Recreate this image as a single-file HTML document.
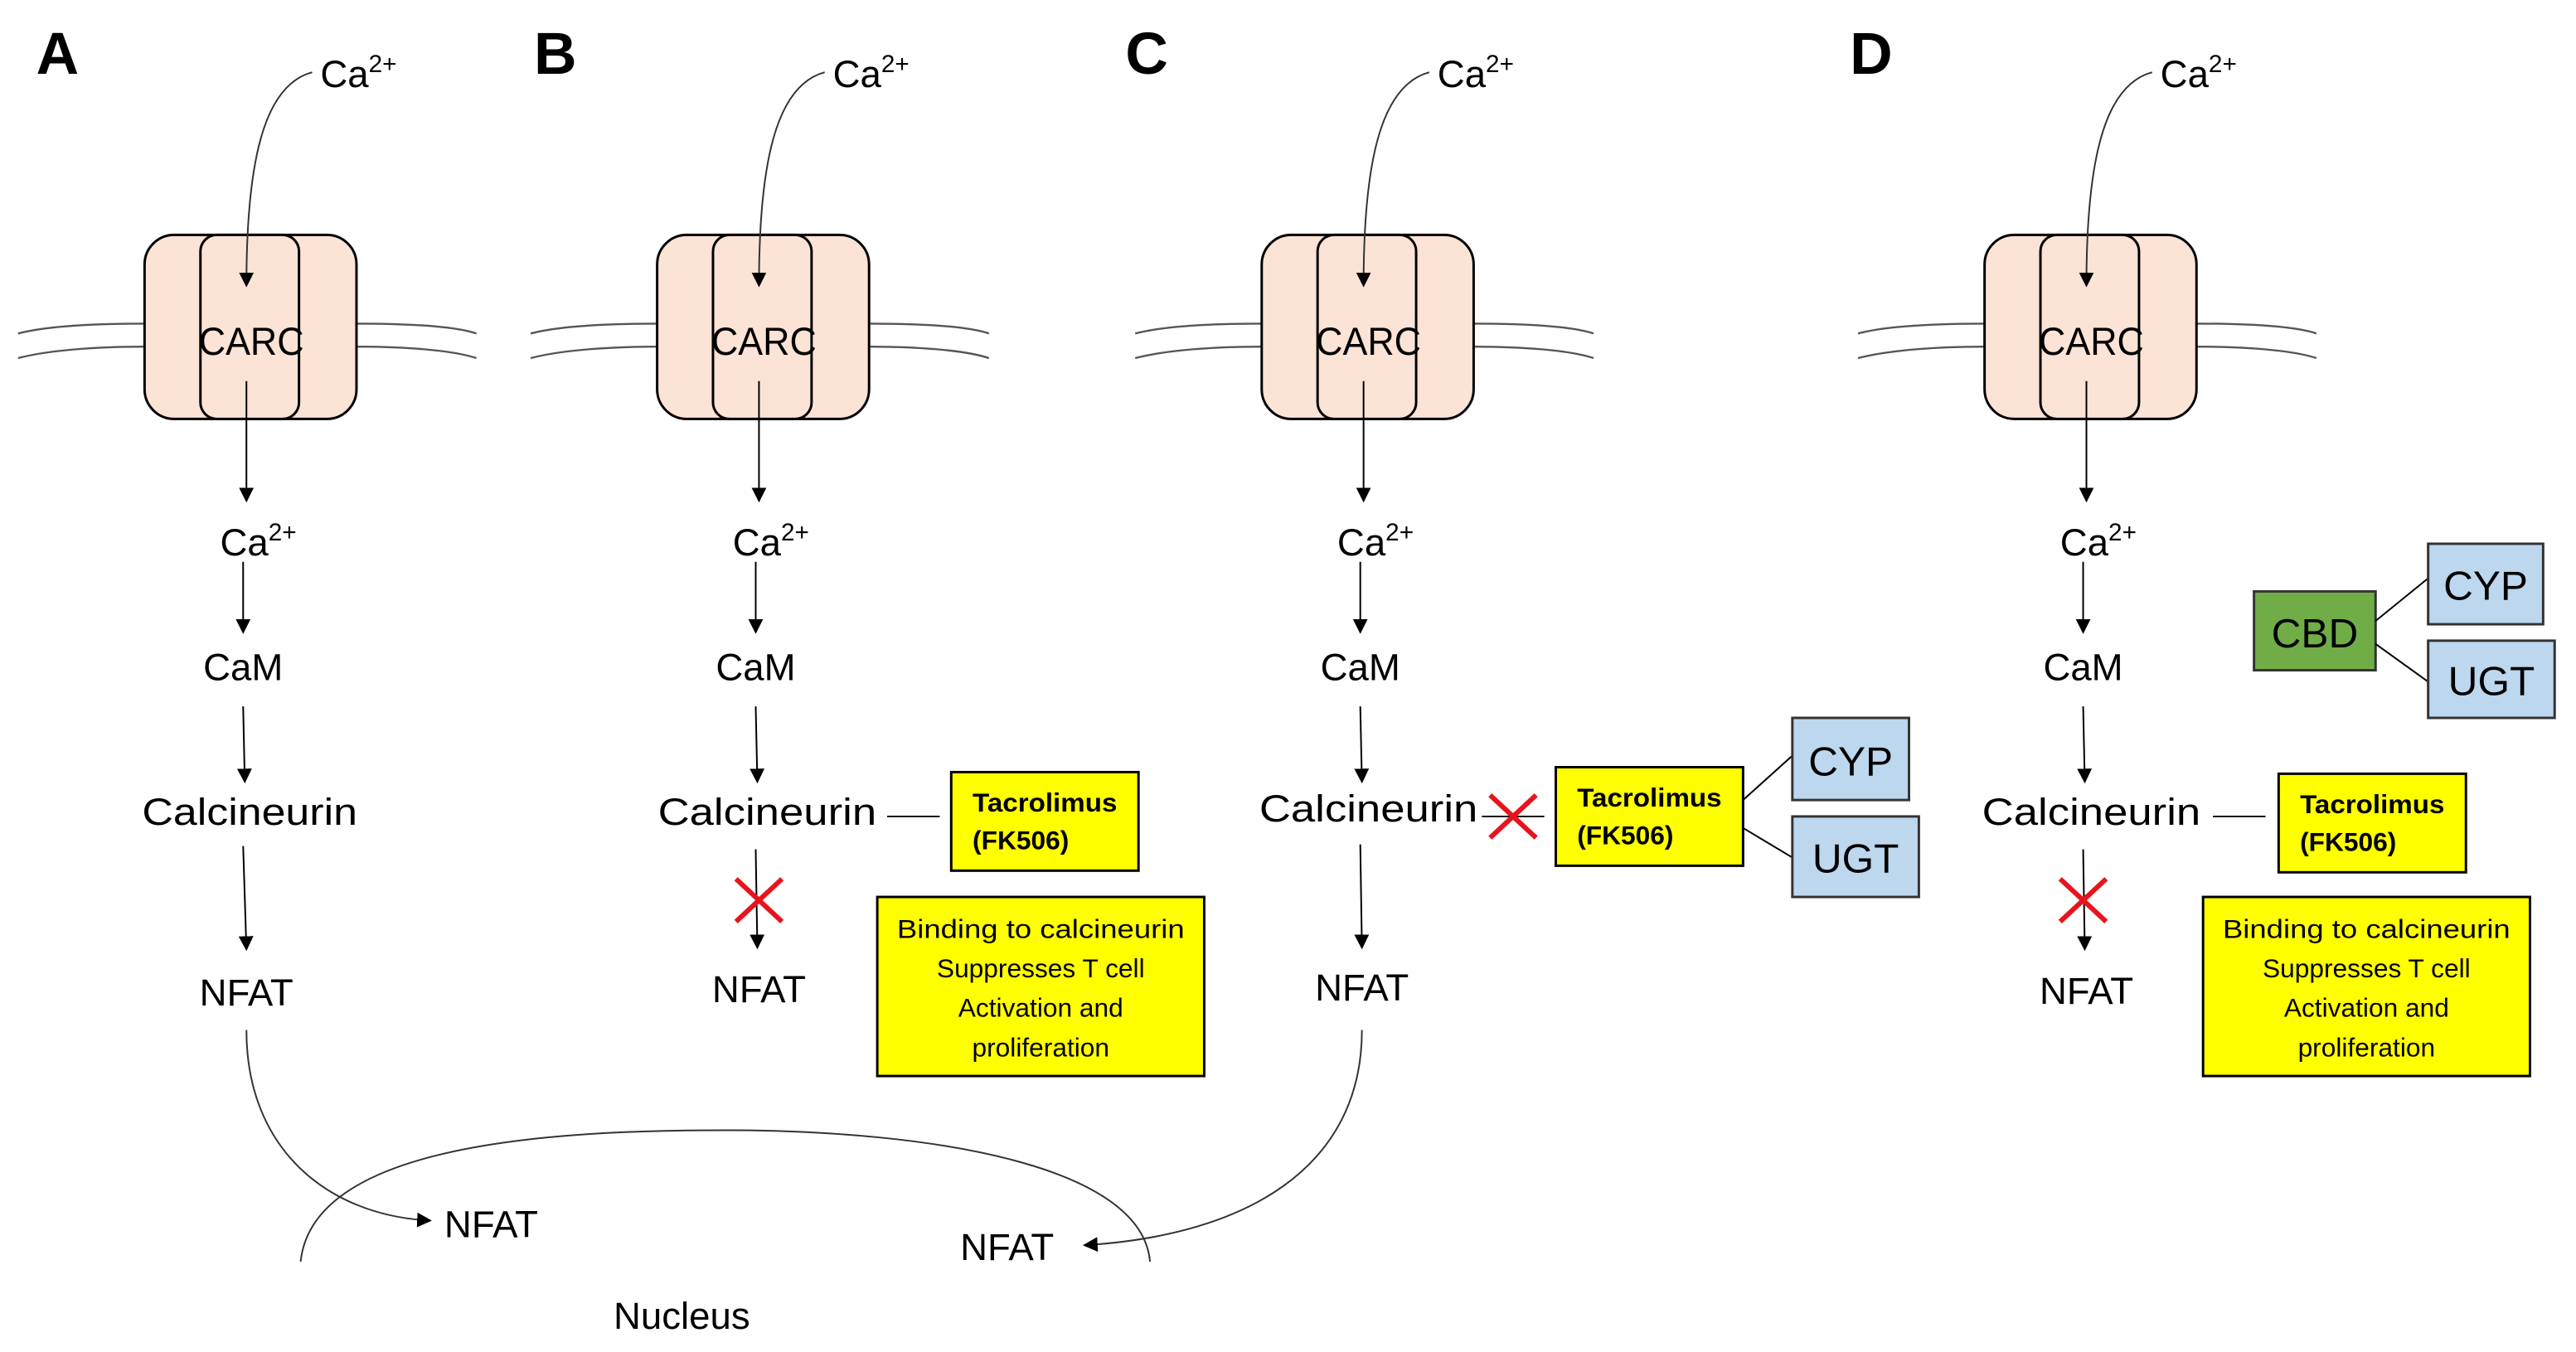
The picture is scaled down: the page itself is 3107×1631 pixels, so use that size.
<!DOCTYPE html>
<html><head><meta charset="utf-8"><style>
html,body{margin:0;padding:0;background:#fff;}
svg{display:block;}
text{font-family:"Liberation Sans",sans-serif;fill:#000;}
</style></head><body>
<svg width="3107" height="1631" viewBox="0 0 1568 823" preserveAspectRatio="none" xmlns="http://www.w3.org/2000/svg">
<defs>
<marker id="ah" viewBox="0 0 10 10" refX="9" refY="5" markerWidth="9" markerHeight="9" markerUnits="userSpaceOnUse" orient="auto"><path d="M0,0 L10,5 L0,10 z" fill="#000"/></marker>
<g id="chan">
 <path d="M11,203 C30,198 60,197 88,197" fill="none" stroke="#555" stroke-width="1.2"/>
 <path d="M11,218 C30,213 60,211 88,211" fill="none" stroke="#555" stroke-width="1.2"/>
 <path d="M217,197 C245,197 275,198 290,203" fill="none" stroke="#555" stroke-width="1.2"/>
 <path d="M217,211 C245,211 275,213 290,218" fill="none" stroke="#555" stroke-width="1.2"/>
 <rect x="88" y="143" width="129" height="112" rx="18" fill="#fbe3d6" stroke="#000" stroke-width="1.5"/>
 <rect x="122" y="143" width="60" height="112" rx="10" fill="#fbe3d6" stroke="#000" stroke-width="1.5"/>
 <text x="153" y="216" font-size="24" text-anchor="middle" textLength="64" lengthAdjust="spacingAndGlyphs">CARC</text>
 <path d="M190,44 C160,52 150,100 150,174" fill="none" stroke="#333" stroke-width="1" marker-end="url(#ah)"/>
 <text x="195" y="53" font-size="23">Ca<tspan font-size="15" dy="-9">2+</tspan></text>
 <path d="M150,232 L150,305" stroke="#000" stroke-width="1" marker-end="url(#ah)"/>
 <text x="134" y="338" font-size="23">Ca<tspan font-size="15" dy="-9">2+</tspan></text>
 <path d="M148,342 L148,385" stroke="#000" stroke-width="1" marker-end="url(#ah)"/>
 <text x="148" y="414" font-size="23" text-anchor="middle">CaM</text>
 <path d="M148,430 L149,476" stroke="#000" stroke-width="1" marker-end="url(#ah)"/>
</g>
<g id="carbox">
 <rect x="0" y="0" width="199" height="109" fill="#ffff00" stroke="#000" stroke-width="1.5"/>
 <text x="99.5" y="25" font-size="16" text-anchor="middle" textLength="175" lengthAdjust="spacingAndGlyphs">Binding to calcineurin</text>
 <text x="99.5" y="49" font-size="16" text-anchor="middle">Suppresses T cell</text>
 <text x="99.5" y="73" font-size="16" text-anchor="middle">Activation and</text>
 <text x="99.5" y="97" font-size="16" text-anchor="middle">proliferation</text>
</g>
<g id="tac">
 <rect x="0" y="0" width="114" height="60" fill="#ffff00" stroke="#000" stroke-width="1.5"/>
 <text x="13" y="24" font-size="16" font-weight="bold" textLength="88" lengthAdjust="spacingAndGlyphs">Tacrolimus</text>
 <text x="13" y="47" font-size="16" font-weight="bold">(FK506)</text>
</g>
<g id="xx"><path d="M-14,-13 L14,13 M14,-13 L-14,13" stroke="#e8141c" stroke-width="3"/></g>
</defs>

<text x="22" y="45" font-size="36" font-weight="bold">A</text>
<text x="325" y="45" font-size="36" font-weight="bold">B</text>
<text x="685" y="45" font-size="36" font-weight="bold">C</text>
<text x="1126" y="45" font-size="36" font-weight="bold">D</text>

<!-- Panel A -->
<use href="#chan"/>
<text x="152" y="502" font-size="23" text-anchor="middle" textLength="131" lengthAdjust="spacingAndGlyphs">Calcineurin</text>
<path d="M148,515 L150,578" stroke="#000" stroke-width="1" marker-end="url(#ah)"/>
<text x="150" y="612" font-size="23" text-anchor="middle">NFAT</text>
<path d="M150,627 C150,700 200,740 262,743" fill="none" stroke="#333" stroke-width="1" marker-end="url(#ah)"/>

<path d="M183,768 C190,700 320,688 440,688 C570,688 695,710 700,768" fill="none" stroke="#333" stroke-width="1"/>
<text x="299" y="753" font-size="23" text-anchor="middle">NFAT</text>
<text x="613" y="767" font-size="23" text-anchor="middle">NFAT</text>
<text x="415" y="809" font-size="23" text-anchor="middle">Nucleus</text>

<!-- Panel B -->
<use href="#chan" x="312"/>
<text x="467" y="502" font-size="23" text-anchor="middle" textLength="133" lengthAdjust="spacingAndGlyphs">Calcineurin</text>
<path d="M540,497 L572,497" stroke="#000" stroke-width="1"/>
<use href="#tac" x="579" y="470"/>
<path d="M460,517 L461,577" stroke="#000" stroke-width="1" marker-end="url(#ah)"/>
<use href="#xx" x="462" y="548"/>
<text x="462" y="610" font-size="23" text-anchor="middle">NFAT</text>
<use href="#carbox" x="534" y="546"/>

<!-- Panel C -->
<use href="#chan" x="680"/>
<text x="833" y="500" font-size="23" text-anchor="middle" textLength="133" lengthAdjust="spacingAndGlyphs">Calcineurin</text>
<path d="M902,497 L940,497" stroke="#000" stroke-width="1"/>
<use href="#xx" x="921" y="497"/>
<use href="#tac" x="947" y="467"/>
<path d="M1061,487 L1091,460 M1061,504 L1091,522" stroke="#000" stroke-width="1"/>
<rect x="1091" y="437" width="71" height="50" fill="#bdd7ee" stroke="#333" stroke-width="1.5"/>
<text x="1126.5" y="472" font-size="25" text-anchor="middle">CYP</text>
<rect x="1091" y="497" width="77" height="49" fill="#bdd7ee" stroke="#333" stroke-width="1.5"/>
<text x="1129.5" y="531" font-size="25" text-anchor="middle">UGT</text>
<path d="M828,514 L829,577" stroke="#000" stroke-width="1" marker-end="url(#ah)"/>
<text x="829" y="609" font-size="23" text-anchor="middle">NFAT</text>
<path d="M829,627 C829,710 760,752 660,758" fill="none" stroke="#333" stroke-width="1" marker-end="url(#ah)"/>

<!-- Panel D -->
<use href="#chan" x="1120"/>
<text x="1273" y="502" font-size="23" text-anchor="middle" textLength="133" lengthAdjust="spacingAndGlyphs">Calcineurin</text>
<path d="M1347,497 L1379,497" stroke="#000" stroke-width="1"/>
<use href="#tac" x="1387" y="471"/>
<path d="M1268,517 L1269,578" stroke="#000" stroke-width="1" marker-end="url(#ah)"/>
<use href="#xx" x="1268" y="548"/>
<text x="1270" y="611" font-size="23" text-anchor="middle">NFAT</text>
<use href="#carbox" x="1341" y="546"/>
<rect x="1372" y="360" width="74" height="48" fill="#70ad47" stroke="#333" stroke-width="1.5"/>
<text x="1409" y="394" font-size="25" text-anchor="middle">CBD</text>
<path d="M1446,378 L1478,352 M1446,392 L1478,415" stroke="#000" stroke-width="1"/>
<rect x="1478" y="331" width="70" height="49" fill="#bdd7ee" stroke="#333" stroke-width="1.5"/>
<text x="1513" y="365" font-size="25" text-anchor="middle">CYP</text>
<rect x="1478" y="390" width="77" height="47" fill="#bdd7ee" stroke="#333" stroke-width="1.5"/>
<text x="1516.5" y="423" font-size="25" text-anchor="middle">UGT</text>
</svg>
</body></html>
